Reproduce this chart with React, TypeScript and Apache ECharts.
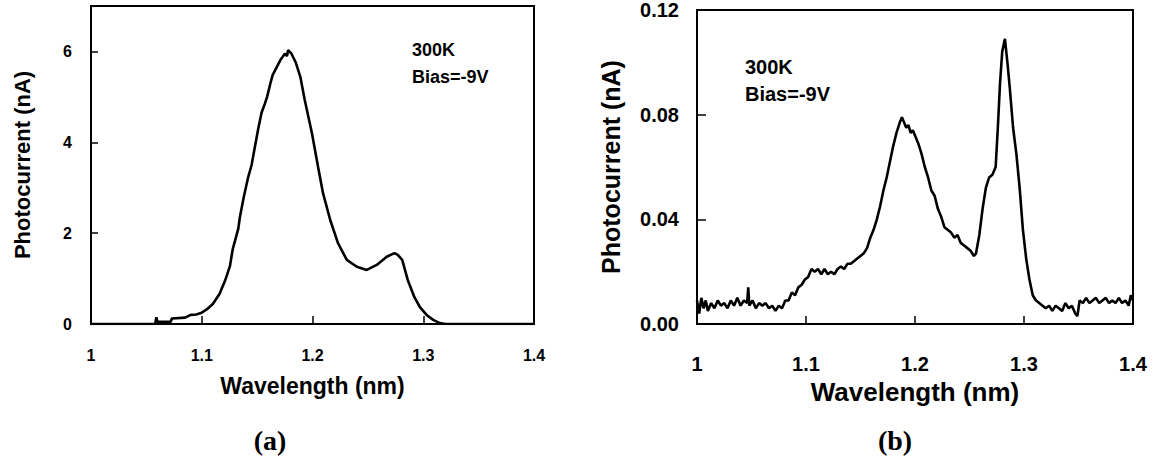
import React, { useEffect, useRef } from "react";
import * as echarts from "echarts";

const xTicks = [1, 1.1, 1.2, 1.3, 1.4];
const yTicksA = [0, 2, 4, 6];
const yTicksB = [0, 0.04, 0.08, 0.12];

const xName = "Wavelength (nm)";
const yName = "Photocurrent (nA)";
const note = ["300K", "Bias=-9V"];
const panelLabels = ["(a)", "(b)"];

// Panel (a): wavelength (nm), photocurrent (nA)
const waveA = [
  1.0, 1.058, 1.059, 1.06, 1.072, 1.073, 1.085, 1.09, 1.095, 1.1, 1.105, 1.11, 1.116, 1.121,
  1.1255, 1.128, 1.133, 1.1345, 1.138, 1.142, 1.145, 1.148, 1.151, 1.154, 1.157, 1.159, 1.162,
  1.164, 1.167, 1.171, 1.173, 1.175, 1.177, 1.178, 1.181, 1.185, 1.189, 1.193, 1.1995, 1.205,
  1.2095, 1.216, 1.223, 1.231, 1.24, 1.249, 1.258, 1.267, 1.274, 1.277, 1.281, 1.286, 1.292,
  1.297, 1.303, 1.309, 1.315, 1.32, 1.4,
];
const currA = [
  0, 0, 0.15, 0.05, 0.05, 0.12, 0.14, 0.2, 0.21, 0.25, 0.33, 0.44, 0.66, 0.95,
  1.28, 1.65, 2.1, 2.36, 2.8, 3.24, 3.5, 3.9, 4.3, 4.65, 4.85, 5.0, 5.3,
  5.48, 5.62, 5.81, 5.88, 5.95, 5.9, 6.03, 5.95, 5.75, 5.44, 4.93, 4.2, 3.46,
  2.88, 2.29, 1.78, 1.41, 1.26, 1.19, 1.3, 1.48, 1.56, 1.52, 1.41, 0.97, 0.59,
  0.37, 0.2, 0.09, 0.02, 0, 0,
];

// Panel (b): wavelength (nm), photocurrent (nA)
const waveB = [
  1.0, 1.002, 1.004, 1.006, 1.008, 1.01, 1.013, 1.016, 1.019, 1.022, 1.025, 1.028, 1.031, 1.034,
  1.037, 1.04, 1.043, 1.046, 1.047, 1.048, 1.051, 1.054, 1.057, 1.06, 1.063, 1.066, 1.069, 1.072,
  1.075, 1.078, 1.081, 1.084, 1.087, 1.09, 1.093, 1.096, 1.099, 1.102, 1.105, 1.108, 1.111, 1.114,
  1.117, 1.12, 1.123, 1.126, 1.129, 1.132, 1.135, 1.138, 1.141, 1.144, 1.147, 1.15, 1.153, 1.156,
  1.159, 1.162, 1.165, 1.168, 1.171, 1.174, 1.177, 1.18, 1.183, 1.186, 1.188, 1.19, 1.192, 1.194,
  1.196, 1.198, 1.2, 1.203, 1.206, 1.209, 1.212, 1.215, 1.218, 1.221, 1.224, 1.227, 1.23, 1.233,
  1.236, 1.239, 1.242, 1.245, 1.248, 1.251, 1.254, 1.256, 1.259, 1.262, 1.265, 1.268, 1.271, 1.274,
  1.276, 1.278, 1.28, 1.2825, 1.285, 1.287, 1.29, 1.293, 1.296, 1.299, 1.302, 1.305, 1.308, 1.311,
  1.314, 1.317, 1.32, 1.323, 1.326, 1.329, 1.332, 1.335, 1.338, 1.341, 1.344, 1.347, 1.349, 1.351,
  1.354, 1.357, 1.36, 1.363, 1.366, 1.369, 1.372, 1.375, 1.378, 1.381, 1.384, 1.387, 1.39, 1.393,
  1.396, 1.398, 1.4,
];
const currB = [
  0.009, 0.004, 0.01, 0.006, 0.009, 0.005, 0.008, 0.006, 0.009, 0.007, 0.008, 0.006, 0.009, 0.007,
  0.01, 0.007, 0.009, 0.008, 0.014, 0.007, 0.009, 0.006, 0.008, 0.007, 0.008, 0.006, 0.007, 0.005,
  0.007, 0.006, 0.009, 0.009, 0.012, 0.011, 0.014, 0.015, 0.017, 0.018, 0.021, 0.02, 0.021, 0.019,
  0.021, 0.019, 0.02, 0.019, 0.021, 0.022, 0.021, 0.023, 0.023, 0.024, 0.025, 0.026, 0.027, 0.029,
  0.033, 0.036, 0.04, 0.045, 0.051, 0.056, 0.062, 0.068, 0.073, 0.077, 0.079, 0.077, 0.075, 0.076,
  0.073, 0.074, 0.072, 0.069, 0.065, 0.06, 0.056, 0.051, 0.049, 0.044, 0.041, 0.037, 0.036, 0.035,
  0.033, 0.034, 0.031, 0.03, 0.029, 0.028, 0.026, 0.027, 0.034, 0.044, 0.052, 0.056, 0.057, 0.06,
  0.075, 0.092, 0.104, 0.109, 0.099, 0.09, 0.075, 0.065, 0.052, 0.036, 0.025, 0.017, 0.011, 0.009,
  0.008, 0.007, 0.006, 0.007, 0.005, 0.007, 0.006, 0.005, 0.008, 0.006, 0.007, 0.004, 0.003, 0.009,
  0.008, 0.01, 0.008, 0.009, 0.01, 0.008, 0.009, 0.01, 0.008, 0.009, 0.008, 0.01, 0.008, 0.009,
  0.007, 0.011, 0.009,
];

const FONT = "'Liberation Sans', Arial, sans-serif";

function xAxisCfg(gridIndex: number, labelSize: number, labelMargin: number, nameSize: number, nameGap: number) {
  return {
    type: "value",
    gridIndex,
    min: xTicks[0],
    max: xTicks[xTicks.length - 1],
    interval: 0.1,
    name: xName,
    nameLocation: "middle",
    nameGap,
    nameTextStyle: { color: "#000", fontFamily: FONT, fontWeight: "bold", fontSize: nameSize },
    axisLine: { lineStyle: { color: "#000", width: 2 } },
    axisTick: { inside: true, length: 8, lineStyle: { color: "#000", width: 1.5 } },
    axisLabel: {
      color: "#000",
      fontFamily: FONT,
      fontWeight: "bold",
      fontSize: labelSize,
      margin: labelMargin,
      formatter: (v: number) => String(Math.round(v * 10) / 10),
    },
    splitLine: { show: false },
  };
}

export default function App() {
  const ref = useRef<HTMLDivElement>(null);
  useEffect(() => {
    if (!ref.current) return;
    const chart = echarts.init(ref.current, undefined, { renderer: "svg" });
    const dataA = waveA.map((w, i) => [w, currA[i]]);
    const dataB = waveB.map((w, i) => [w, currB[i]]);
    chart.setOption({
      animation: false,
      backgroundColor: "#fff",
      grid: [
        { left: 91, top: 6, width: 443, height: 318, show: true, borderColor: "#000", borderWidth: 2, backgroundColor: "transparent" },
        { left: 697, top: 8, width: 436, height: 316, show: true, borderColor: "#000", borderWidth: 2, backgroundColor: "transparent" },
      ],
      xAxis: [xAxisCfg(0, 16, 23, 23, 50), xAxisCfg(1, 20, 30, 26, 54)],
      yAxis: [
        {
          type: "value",
          gridIndex: 0,
          min: 0,
          max: 7,
          interval: 2,
          name: yName,
          nameLocation: "middle",
          nameGap: 58,
          nameTextStyle: { color: "#000", fontFamily: FONT, fontWeight: "bold", fontSize: 22 },
          axisLine: { lineStyle: { color: "#000", width: 2 } },
          axisTick: { inside: true, length: 7, lineStyle: { color: "#000", width: 1.5 } },
          axisLabel: {
            color: "#000",
            fontFamily: FONT,
            fontWeight: "bold",
            fontSize: 16,
            margin: 19,
            formatter: (v: number) => (yTicksA.includes(v) ? String(v) : ""),
          },
          splitLine: { show: false },
        },
        {
          type: "value",
          gridIndex: 1,
          min: yTicksB[0],
          max: yTicksB[yTicksB.length - 1],
          interval: 0.04,
          name: yName,
          nameLocation: "middle",
          nameGap: 74,
          nameTextStyle: { color: "#000", fontFamily: FONT, fontWeight: "bold", fontSize: 25 },
          axisLine: { lineStyle: { color: "#000", width: 2 } },
          axisTick: { inside: true, length: 9, lineStyle: { color: "#000", width: 1.5 } },
          axisLabel: {
            color: "#000",
            fontFamily: FONT,
            fontWeight: "bold",
            fontSize: 20,
            margin: 18,
            formatter: (v: number) => v.toFixed(2),
          },
          splitLine: { show: false },
        },
      ],
      series: [
        {
          type: "line",
          xAxisIndex: 0,
          yAxisIndex: 0,
          data: dataA,
          showSymbol: false,
          lineStyle: { color: "#000", width: 2.6 },
        },
        {
          type: "line",
          xAxisIndex: 1,
          yAxisIndex: 1,
          data: dataB,
          showSymbol: false,
          lineStyle: { color: "#000", width: 2.6 },
        },
      ],
      graphic: [
        {
          type: "text",
          left: 412,
          top: 36,
          style: { text: note.join("\n"), fill: "#000", font: `bold 18px ${FONT}`, lineHeight: 27 },
        },
        {
          type: "text",
          left: 745,
          top: 53,
          style: { text: note.join("\n"), fill: "#000", font: `bold 20px ${FONT}`, lineHeight: 27 },
        },
        {
          type: "text",
          x: 270,
          y: 440,
          style: {
            text: panelLabels[0],
            fill: "#000",
            font: "bold 28px 'Liberation Serif', 'Times New Roman', serif",
            align: "center",
            verticalAlign: "middle",
          },
        },
        {
          type: "text",
          x: 895,
          y: 440,
          style: {
            text: panelLabels[1],
            fill: "#000",
            font: "bold 28px 'Liberation Serif', 'Times New Roman', serif",
            align: "center",
            verticalAlign: "middle",
          },
        },
      ],
    });
    return () => chart.dispose();
  }, []);
  return (
    <div
      ref={ref}
      style={{ position: "absolute", left: 0, top: 0, width: 1154, height: 458 }}
    />
  );
}
